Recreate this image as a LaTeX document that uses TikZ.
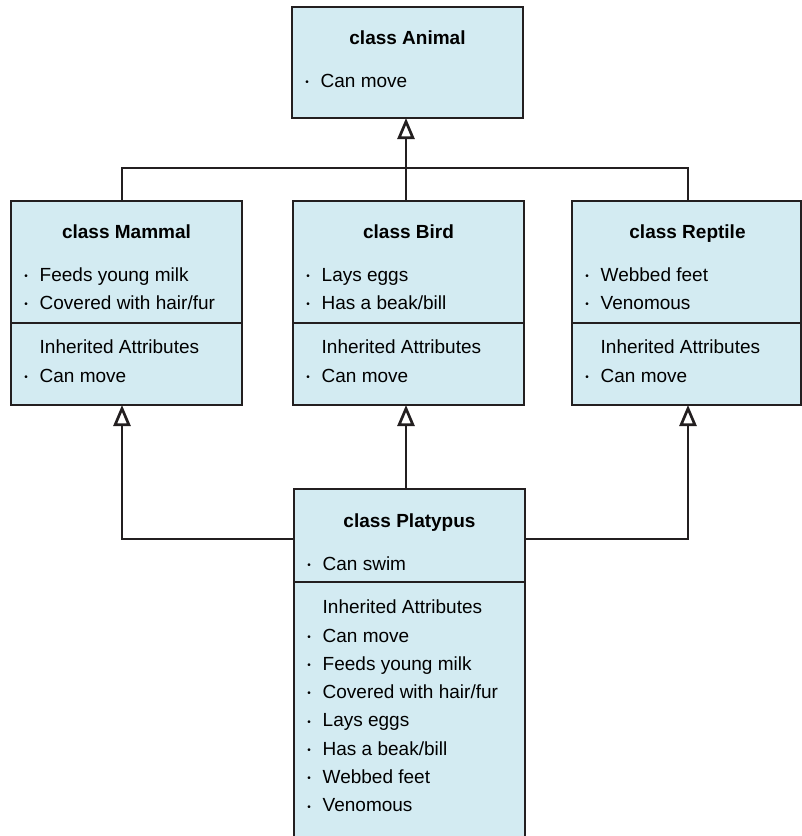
\documentclass[tikz,border=0pt]{standalone}
\usepackage{fontspec}
\setmainfont{Liberation Sans}
\usetikzlibrary{arrows.meta,calc}

\definecolor{classfill}{HTML}{D3EBF2}
\definecolor{classline}{HTML}{231F20}

\newcommand\bul{\llap{\makebox[0pt]{\fontsize{10}{10}\selectfont\raisebox{1.8pt}{•}}\hspace{13.5pt}}}

\tikzset{
  sect/.style={draw=classline, line width=2.7pt, fill=classfill,
    minimum width=231pt, inner sep=0pt, outer sep=0pt, anchor=north west},
  txt/.style={anchor=base west, inner sep=0pt,
    font=\fontsize{19}{22}\selectfont},
  ttl/.style={anchor=base, inner sep=0pt,
    font=\fontsize{19}{22}\selectfont\bfseries},
  link/.style={draw=classline, line width=2.7pt},
  isa/.style={link, -{Triangle[length=21pt, width=17pt, fill=white]}}
}

\begin{document}
\begin{tikzpicture}[x=1pt, y=-1pt]

\newcommand\attrlist[3]{%% section, first baseline, items
  \foreach \t [count=\i] in {#3}
    \node[txt] (#1-\i) at ($(#1.north west)+(28.5,#2+28.3*\i-28.3)$) {\bul \t};}

\clip (0,0) rectangle (802,836); %% page size

%% class boxes
\node[sect, minimum height=111pt] (animal) at (292,7) {};
\node[sect, minimum height=122pt] (mammal) at (11,201) {};
\node[sect, minimum height=82pt] (mammalinh) at (mammal.south west) {};
\node[sect, minimum height=122pt] (bird) at (293,201) {};
\node[sect, minimum height=82pt] (birdinh) at (bird.south west) {};
\node[sect, minimum height=122pt, minimum width=229pt] (reptile) at (572,201) {};
\node[sect, minimum height=82pt, minimum width=229pt] (reptileinh) at (reptile.south west) {};
\node[sect, minimum height=93pt] (platypus) at (294,489) {};
\node[sect, minimum height=280pt] (platypusinh) at (platypus.south west) {};

%% titles
\node[ttl] (animal-t) at ($(animal.north)+(0,37.5)$) {class Animal};
\node[ttl] (mammal-t) at ($(mammal.north)+(0,37.5)$) {class Mammal};
\node[ttl] (bird-t) at ($(bird.north)+(0,37.5)$) {class Bird};
\node[ttl] (reptile-t) at ($(reptile.north)+(1,37.5)$) {class Reptile};
\node[ttl] (platypus-t) at ($(platypus.north)+(0,38)$) {class Platypus};

%% own attributes
\attrlist{animal}{80}{Can move}
\attrlist{mammal}{80}{Feeds young milk, Covered with hair/fur}
\attrlist{bird}{80}{Lays eggs, Has a beak/bill}
\attrlist{reptile}{80}{Webbed feet, Venomous}
\attrlist{platypus}{81}{Can swim}

%% inherited attributes
\node[txt] (mammalinh-h) at ($(mammalinh.north west)+(28.5,30.5)$) {Inherited Attributes};
\node[txt] (birdinh-h) at ($(birdinh.north west)+(28.5,30.5)$) {Inherited Attributes};
\node[txt] (reptileinh-h) at ($(reptileinh.north west)+(28.5,30.5)$) {Inherited Attributes};
\node[txt] (platypusinh-h) at ($(platypusinh.north west)+(28.5,31)$) {Inherited Attributes};
\attrlist{mammalinh}{59}{Can move}
\attrlist{birdinh}{59}{Can move}
\attrlist{reptileinh}{59}{Can move}
\attrlist{platypusinh}{60}{Can move, Feeds young milk, Covered with hair/fur,
  Lays eggs, Has a beak/bill, Webbed feet, Venomous}

%% connectors
\coordinate (bus) at (406,168);
\coordinate (busL) at (122,168);
\coordinate (busR) at (688,168);
\coordinate (joinL) at (122,539);
\coordinate (joinR) at (688,539);

\draw[link] (busL |- mammal.north) -- (busL) -- (busR) -- (busR |- reptile.north);
\draw[isa] (bus |- bird.north) -- (bus |- animal.south);

\draw[isa] (joinL -| platypus.west) -- (joinL) -- (joinL |- mammalinh.south);
\draw[isa] (bus |- platypus.north) -- (bus |- birdinh.south);
\draw[isa] (joinR -| platypus.east) -- (joinR) -- (joinR |- reptileinh.south);

\end{tikzpicture}
\end{document}
